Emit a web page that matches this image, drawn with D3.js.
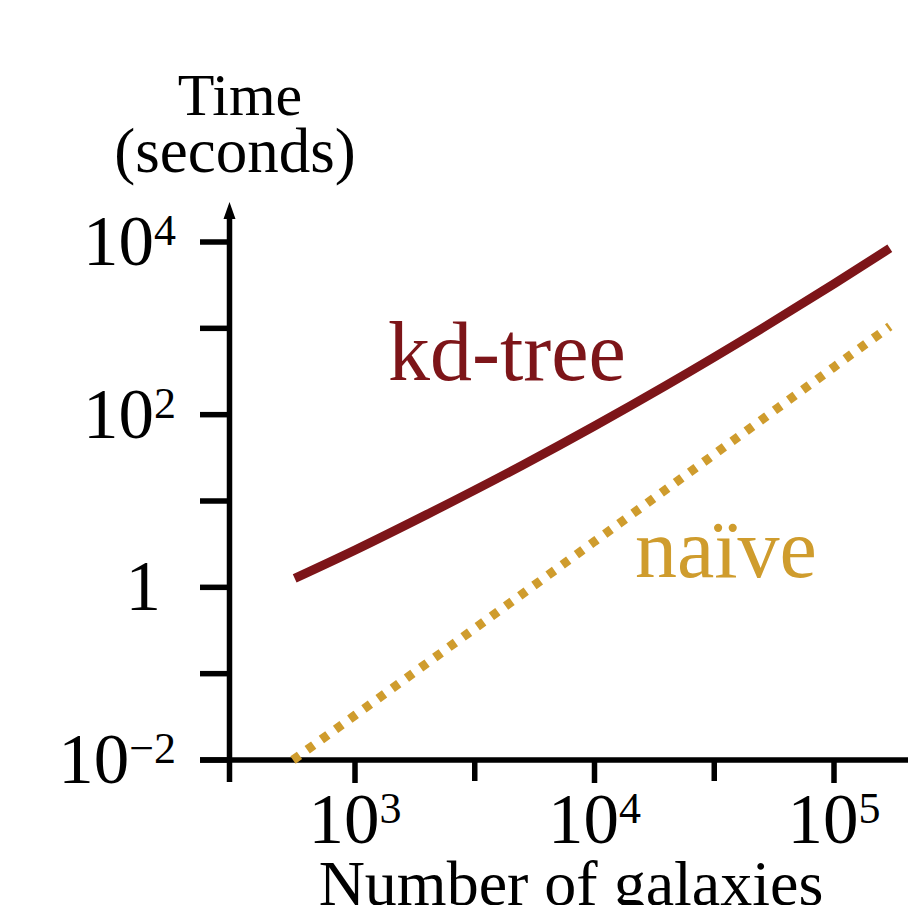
<!DOCTYPE html>
<html>
<head>
<meta charset="utf-8">
<script src="https://cdn.jsdelivr.net/npm/d3@7"></script>
<style>
  html, body { margin: 0; padding: 0; background: #fff; }
  svg { display: block; }
  text { font-family: "Liberation Serif", "Times New Roman", serif; }
</style>
</head>
<body>
<svg id="chart" width="908" height="905"></svg>
<script>
// ---- data ----
const galaxies = [560, 1000, 2000, 5000, 10000, 20000, 50000, 100000, 171000];
const kdTreeTime = [1.27, 2.7, 7.0, 26, 74, 220, 995, 3270, 8450];
const naiveN = [551, 1000, 10000, 100000, 171000];
const naiveTime = [0.01, 0.033, 3.4, 356, 1055];

const xMajorTicks = [1e3, 1e4, 1e5];
const xMajorExp = ["3", "4", "5"];
const xMinorTicks = [Math.pow(10, 3.5), Math.pow(10, 4.5)];
const yMajorTicks = [1e-2, 1, 1e2, 1e4];
const yMajorLabels = [["10", "\u22122"], ["1", ""], ["10", "2"], ["10", "4"]];
const yMinorTicks = [1e-1, 1e1, 1e3];

const seriesLabels = ["kd-tree", "na\u00efve"];
const labelAnchors = [[1374, 250], [14750, 1.31]];
const yTitle = ["Time", "(seconds)"];
const xTitle = "Number of galaxies";

// ---- layout ----
const svg = d3.select("#chart");
const x = d3.scaleLog().domain([1e3, 1e5]).range([355, 834]);
const y = d3.scaleLog().domain([1e-2, 1e4]).range([760, 242]);
const axisX = 229.5;
const axisY = 760;
const kdColor = "#7d1519";
const naiveColor = "#cf9c2d";
const sw = 5.5;
const baseSize = 71, supSize = 44, supDy = -20;

// x axis line
svg.append("line").attr("x1", 200).attr("x2", 908)
  .attr("y1", axisY).attr("y2", axisY)
  .attr("stroke", "#000").attr("stroke-width", sw);
// y axis line
svg.append("line").attr("x1", axisX).attr("x2", axisX)
  .attr("y1", 782).attr("y2", 214)
  .attr("stroke", "#000").attr("stroke-width", sw);
// arrow head
svg.append("path")
  .attr("d", `M${axisX},202 L${axisX - 6},219 L${axisX + 6},219 Z`)
  .attr("fill", "#000");

// y ticks
svg.selectAll(".ytick").data(yMajorTicks.concat(yMinorTicks)).enter()
  .append("line")
  .attr("x1", 200).attr("x2", axisX)
  .attr("y1", d => y(d)).attr("y2", d => y(d))
  .attr("stroke", "#000").attr("stroke-width", sw);

// x ticks
svg.selectAll(".xtick").data(xMajorTicks).enter()
  .append("line")
  .attr("x1", d => x(d)).attr("x2", d => x(d))
  .attr("y1", axisY).attr("y2", 783)
  .attr("stroke", "#000").attr("stroke-width", sw);
svg.selectAll(".xtickm").data(xMinorTicks).enter()
  .append("line")
  .attr("x1", d => x(d)).attr("x2", d => x(d))
  .attr("y1", axisY).attr("y2", 781)
  .attr("stroke", "#000").attr("stroke-width", sw);

// y tick labels
yMajorTicks.forEach((v, i) => {
  const [base, exp] = yMajorLabels[i];
  const t = svg.append("text")
    .attr("x", exp ? 176 : 161)
    .attr("y", y(v) + 23)
    .attr("text-anchor", "end")
    .attr("font-size", baseSize)
    .attr("fill", "#000");
  t.append("tspan").text(base);
  if (exp) {
    t.append("tspan").attr("font-size", supSize).attr("dy", supDy).text(exp);
  }
});

// x tick labels
xMajorTicks.forEach((v, i) => {
  const t = svg.append("text")
    .attr("x", x(v))
    .attr("y", 843)
    .attr("text-anchor", "middle")
    .attr("font-size", baseSize)
    .attr("fill", "#000");
  t.append("tspan").text("10");
  t.append("tspan").attr("font-size", supSize).attr("dy", supDy).text(xMajorExp[i]);
});

// axis titles
svg.append("text").attr("x", 240).attr("y", 115)
  .attr("text-anchor", "middle").attr("font-size", 60).text(yTitle[0]);
svg.append("text").attr("x", 235).attr("y", 172)
  .attr("text-anchor", "middle").attr("font-size", 63).text(yTitle[1]);
svg.append("text").attr("x", 571).attr("y", 905)
  .attr("text-anchor", "middle").attr("font-size", 64).text(xTitle);

// series
const line = d3.line().x(d => x(d[0])).y(d => y(d[1])).curve(d3.curveMonotoneX);

svg.append("path")
  .datum(naiveN.map((n, i) => [n, naiveTime[i]]))
  .attr("d", line)
  .attr("fill", "none")
  .attr("stroke", naiveColor)
  .attr("stroke-width", 9)
  .attr("stroke-dasharray", "8 9.5");

svg.append("path")
  .datum(galaxies.map((n, i) => [n, kdTreeTime[i]]))
  .attr("d", line)
  .attr("fill", "none")
  .attr("stroke", kdColor)
  .attr("stroke-width", 9);

// series labels
svg.append("text")
  .attr("x", x(labelAnchors[0][0])).attr("y", y(labelAnchors[0][1]))
  .attr("font-size", 84).attr("fill", kdColor).text(seriesLabels[0]);
svg.append("text")
  .attr("x", x(labelAnchors[1][0])).attr("y", y(labelAnchors[1][1]))
  .attr("font-size", 84).attr("fill", naiveColor).text(seriesLabels[1]);
</script>
</body>
</html>
